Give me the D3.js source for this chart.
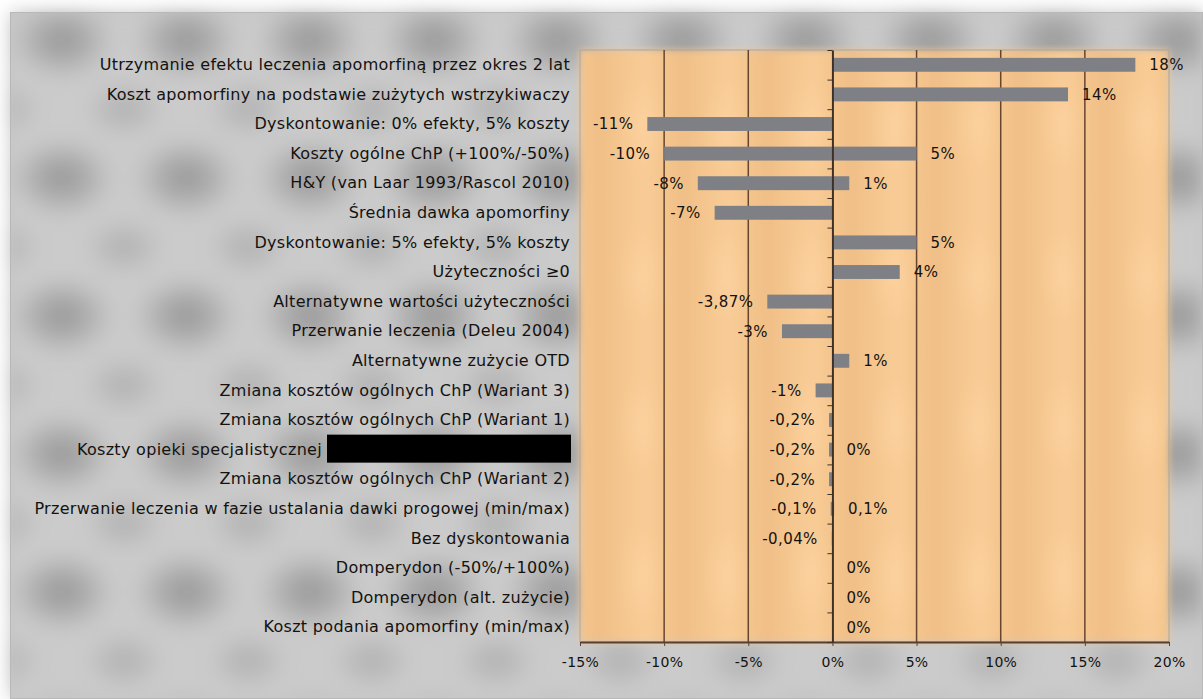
<!DOCTYPE html>
<html>
<head>
<meta charset="utf-8">
<script src="https://cdn.jsdelivr.net/npm/d3@7"></script>
<style>
  html, body { margin: 0; padding: 0; background: #fff; }
  svg { display: block; }
  text { font-family: "DejaVu Sans", Verdana, sans-serif; fill: #141210; }
</style>
</head>
<body>
<svg id="chart" width="1203" height="699"></svg>
<script>
// Tornado chart: one-way sensitivity analysis (change of ICER, %)
const categories = [
  "Utrzymanie efektu leczenia apomorfiną przez okres 2 lat",
  "Koszt apomorfiny na podstawie zużytych wstrzykiwaczy",
  "Dyskontowanie: 0% efekty, 5% koszty",
  "Koszty ogólne ChP (+100%/-50%)",
  "H&Y (van Laar 1993/Rascol 2010)",
  "Średnia dawka apomorfiny",
  "Dyskontowanie: 5% efekty, 5% koszty",
  "Użyteczności ≥0",
  "Alternatywne wartości użyteczności",
  "Przerwanie leczenia (Deleu 2004)",
  "Alternatywne zużycie OTD",
  "Zmiana kosztów ogólnych ChP (Wariant 3)",
  "Zmiana kosztów ogólnych ChP (Wariant 1)",
  "Koszty opieki specjalistycznej",
  "Zmiana kosztów ogólnych ChP (Wariant 2)",
  "Przerwanie leczenia w fazie ustalania dawki progowej (min/max)",
  "Bez dyskontowania",
  "Domperydon (-50%/+100%)",
  "Domperydon (alt. zużycie)",
  "Koszt podania apomorfiny (min/max)"
];

// lower-bound result (%), null where the scenario has no negative side
const lowValues = [null, null, -11, -10, -8, -7, null, null, -3.87, -3,
                   null, -1, -0.2, -0.2, -0.2, -0.1, -0.04, null, null, null];
// upper-bound result (%), null where the scenario has no positive side
const highValues = [18, 14, null, 5, 1, null, 5, 4, null, null,
                    1, null, null, 0, null, 0.1, null, 0, 0, 0];

const xTickValues = [-15, -10, -5, 0, 5, 10, 15, 20];

const svg = d3.select("#chart");
const W = 1203, H = 699;
const plot = { left: 580, right: 1169, top: 50, bottom: 642 };

const defs = svg.append("defs");

// grey mottled frame texture
const gBlob = defs.append("radialGradient").attr("id", "greyBlob");
gBlob.append("stop").attr("offset", "0%").attr("stop-color", "#989898");
gBlob.append("stop").attr("offset", "50%").attr("stop-color", "#b2b2b2");
gBlob.append("stop").attr("offset", "100%").attr("stop-color", "#cacaca").attr("stop-opacity", 0);
const gPat = defs.append("pattern").attr("id", "greyTex")
  .attr("patternUnits", "userSpaceOnUse")
  .attr("x", 0).attr("y", 0).attr("width", 124).attr("height", 138);
gPat.append("rect").attr("width", 124).attr("height", 138).attr("fill", "#cbcbcb");
gPat.append("ellipse").attr("cx", 62).attr("cy", 40).attr("rx", 62).attr("ry", 48)
  .attr("fill", "url(#greyBlob)");
gPat.append("ellipse").attr("cx", 0).attr("cy", 109).attr("rx", 48).attr("ry", 36)
  .attr("fill", "url(#greyBlob)").attr("opacity", 0.5);
gPat.append("ellipse").attr("cx", 124).attr("cy", 109).attr("rx", 48).attr("ry", 36)
  .attr("fill", "url(#greyBlob)").attr("opacity", 0.5);

// orange plot texture with soft vertical streaks
const oGrad = defs.append("linearGradient").attr("id", "orangeStreak")
  .attr("x1", 0).attr("x2", 1).attr("y1", 0).attr("y2", 0);
[["0%", "#f0bf87"], ["35%", "#f6c891"], ["55%", "#f9cc97"], ["75%", "#f4c58d"], ["100%", "#f0bf87"]]
  .forEach(([o, c]) => oGrad.append("stop").attr("offset", o).attr("stop-color", c));
const oBlob = defs.append("radialGradient").attr("id", "orangeBlob");
oBlob.append("stop").attr("offset", "0%").attr("stop-color", "#fdd3a0").attr("stop-opacity", 0.7);
oBlob.append("stop").attr("offset", "100%").attr("stop-color", "#fdd3a0").attr("stop-opacity", 0);
const oPat = defs.append("pattern").attr("id", "orangeTex")
  .attr("patternUnits", "userSpaceOnUse")
  .attr("x", plot.left + 20).attr("y", plot.top).attr("width", 84).attr("height", 150);
oPat.append("rect").attr("width", 84).attr("height", 150).attr("fill", "url(#orangeStreak)");
oPat.append("ellipse").attr("cx", 42).attr("cy", 75).attr("rx", 26).attr("ry", 50)
  .attr("fill", "url(#orangeBlob)");

const blur = defs.append("filter").attr("id", "soft").attr("x", "-5%").attr("y", "-5%")
  .attr("width", "110%").attr("height", "110%");
blur.append("feGaussianBlur").attr("stdDeviation", 9);
const blurLight = defs.append("filter").attr("id", "softer");
blurLight.append("feGaussianBlur").attr("stdDeviation", 3);

// frame
svg.append("rect").attr("width", W).attr("height", H).attr("fill", "#ffffff");
svg.append("rect").attr("x", 10).attr("y", 12).attr("width", W - 10).attr("height", H - 12)
  .attr("fill", "#c6c6c6");
svg.append("rect").attr("x", 10).attr("y", 12).attr("width", W - 10).attr("height", H - 12)
  .attr("fill", "url(#greyTex)").attr("filter", "url(#soft)");
svg.append("rect").attr("x", 10.5).attr("y", 12.5).attr("width", W - 11).attr("height", H - 13)
  .attr("fill", "none").attr("stroke", "#b8b8b8").attr("stroke-width", 1);

// scales
const x = d3.scaleLinear().domain([-15, 20]).range([plot.left, plot.right]);
const y = d3.scaleBand().domain(categories).range([plot.top, plot.bottom])
  .paddingInner(0.53).paddingOuter(0.265);
const yEdge = d3.scaleLinear().domain([0, categories.length]).range([plot.top, plot.bottom]);

// plot background
svg.append("rect").attr("x", plot.left).attr("y", plot.top)
  .attr("width", plot.right - plot.left).attr("height", plot.bottom - plot.top)
  .attr("fill", "url(#orangeTex)").attr("filter", "url(#softer)");
svg.append("rect").attr("x", plot.left).attr("y", plot.top)
  .attr("width", plot.right - plot.left).attr("height", plot.bottom - plot.top)
  .attr("fill", "none").attr("stroke", "#b3a396").attr("stroke-width", 1);

// vertical gridlines
svg.append("g").selectAll("line")
  .data(xTickValues.filter(v => v !== 0 && v !== -15 && v !== 20))
  .join("line")
  .attr("x1", d => x(d)).attr("x2", d => x(d))
  .attr("y1", plot.top).attr("y2", plot.bottom)
  .attr("stroke", "#66452f").attr("stroke-width", 1.5);

// bars
const rows = categories.map((c, i) => ({ cat: c, low: lowValues[i], high: highValues[i] }));
const bars = svg.append("g");
bars.selectAll("rect.low").data(rows.filter(r => r.low !== null)).join("rect")
  .attr("class", "low")
  .attr("x", d => x(d.low)).attr("width", d => x(0) - x(d.low))
  .attr("y", d => y(d.cat)).attr("height", y.bandwidth())
  .attr("fill", "#7e8086");
bars.selectAll("rect.high").data(rows.filter(r => r.high !== null)).join("rect")
  .attr("class", "high")
  .attr("x", x(0)).attr("width", d => x(d.high) - x(0))
  .attr("y", d => y(d.cat)).attr("height", y.bandwidth())
  .attr("fill", "#7e8086");

// bottom axis
const xAxis = svg.append("g").attr("transform", `translate(0,${plot.bottom})`)
  .call(d3.axisBottom(x).tickValues(xTickValues).tickFormat(d => d + "%")
    .tickSize(4).tickSizeOuter(0).tickPadding(11));
xAxis.select(".domain").attr("stroke", "#5a4030").attr("stroke-width", 2);
xAxis.selectAll(".tick line").attr("stroke", "#5a4030");
xAxis.selectAll(".tick text").attr("font-size", 14).attr("fill", "#141210")
  .attr("letter-spacing", 0.3)
  .attr("font-family", "DejaVu Sans, Verdana, sans-serif");

// zero axis with category boundary ticks
const zeroAxis = svg.append("g").attr("transform", `translate(${x(0)},0)`)
  .call(d3.axisLeft(yEdge).ticks(categories.length).tickFormat("").tickSize(5).tickSizeOuter(0));
zeroAxis.select(".domain").attr("stroke", "#3f3028").attr("stroke-width", 2);
zeroAxis.selectAll(".tick line").attr("stroke", "#3f3028");

// category labels
const catAxis = svg.append("g").attr("transform", `translate(${plot.left},0)`)
  .call(d3.axisLeft(y).tickSize(0).tickPadding(10));
catAxis.select(".domain").remove();
catAxis.selectAll(".tick text").attr("font-size", 16).attr("fill", "#141210")
  .attr("letter-spacing", 0.3)
  .attr("font-family", "DejaVu Sans, Verdana, sans-serif");

// redacted block next to one label
const redY = y("Koszty opieki specjalistycznej");
svg.append("rect").attr("x", 327).attr("y", redY - 8).attr("width", 244).attr("height", 28)
  .attr("fill", "#000");
catAxis.selectAll(".tick").filter(d => d === "Koszty opieki specjalistycznej")
  .select("text").attr("dx", -248);

// value labels
const fmt = v => String(v).replace(".", ",") + "%";
const labels = svg.append("g").attr("font-size", 15).attr("letter-spacing", 0.4);
labels.selectAll("text.low").data(rows.filter(r => r.low !== null)).join("text")
  .attr("class", "low")
  .attr("x", d => x(d.low) - 14).attr("y", d => y(d.cat) + y.bandwidth() / 2)
  .attr("dy", "0.36em").attr("text-anchor", "end")
  .text(d => fmt(d.low));
labels.selectAll("text.high").data(rows.filter(r => r.high !== null)).join("text")
  .attr("class", "high")
  .attr("x", d => x(d.high) + 14).attr("y", d => y(d.cat) + y.bandwidth() / 2)
  .attr("dy", "0.36em").attr("text-anchor", "start")
  .text(d => fmt(d.high));
</script>
</body>
</html>
